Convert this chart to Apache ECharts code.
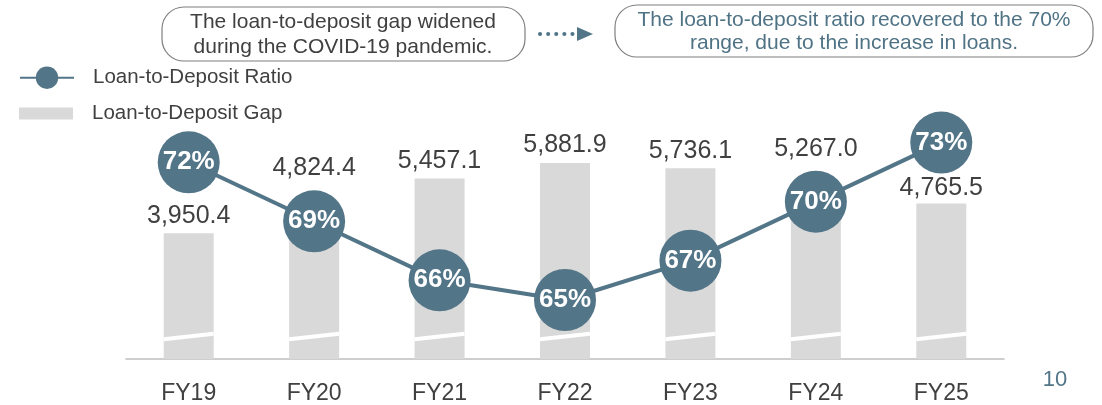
<!DOCTYPE html>
<html>
<head>
<meta charset="utf-8">
<script src="https://cdn.jsdelivr.net/npm/echarts@6.0.0/dist/echarts.min.js"></script>
<style>
  html, body { margin: 0; padding: 0; background: #fff; }
  #chart { width: 1102px; height: 405px; }
</style>
</head>
<body>
<div id="chart"></div>
<script>
// data
const fiscalYears = ['FY19', 'FY20', 'FY21', 'FY22', 'FY23', 'FY24', 'FY25']
const depositGap = [3950.4, 4824.4, 5457.1, 5881.9, 5736.1, 5267.0, 4765.5]
const depositRatio = [72, 69, 66, 65, 67, 70, 73]

const ratioName = 'Loan-to-Deposit Ratio'
const gapName = 'Loan-to-Deposit Gap'

const noteLeft = 'The loan-to-deposit gap widened\nduring the COVID-19 pandemic.'
const noteRight = 'The loan-to-deposit ratio recovered to the 70%\nrange, due to the increase in loans.'
const pageNo = '10'

// styling
const TEAL = '#527588'
const GREY_BAR = '#d9d9d9'
const TEXT = '#404040'
const FONT = 'Liberation Sans, Arial, sans-serif'
const BAR_W = 50
const GAP_MIN = 500
const BREAK_OFFSET = 22.5
// bar labels that sit above the ratio circle
const labelLift = [5, 21, 5, 5, 5, 24, 3]

const chart = echarts.init(document.getElementById('chart'), null, { renderer: 'canvas' })

const fmt = (v) => v.toLocaleString('en-US', { minimumFractionDigits: 1, maximumFractionDigits: 1 })

const option = {
  animation: false,
  textStyle: { fontFamily: FONT },
  grid: { left: 126, right: 98, top: 120, bottom: 46 },
  legend: [
    {
      data: [ratioName],
      left: 19,
      top: 66.5,
      padding: 0,
      itemWidth: 54,
      itemHeight: 28,
      textStyle: { fontSize: 20.5, color: TEXT, padding: [0, 0, 0, 14] },
      selectedMode: false
    },
    {
      data: [{ name: gapName, icon: 'rect' }],
      left: 19,
      top: 103,
      padding: 0,
      itemWidth: 54,
      itemHeight: 12,
      textStyle: { fontSize: 20.5, color: TEXT, padding: [0, 0, 0, 14] },
      selectedMode: false
    }
  ],
  xAxis: {
    type: 'category',
    data: fiscalYears,
    axisLine: { lineStyle: { color: '#bfbfbf', width: 1.5 } },
    axisTick: { show: false },
    axisLabel: { fontSize: 23, color: TEXT, margin: 23 }
  },
  yAxis: [
    { type: 'value', min: GAP_MIN, max: 7061, show: false, splitLine: { show: false } },
    { type: 'value', min: 62.0, max: 74.15, show: false, splitLine: { show: false } }
  ],
  series: [
    {
      name: gapName,
      type: 'bar',
      barWidth: BAR_W,
      z: 2,
      itemStyle: { color: GREY_BAR },
      label: {
        show: true,
        position: 'top',
        fontSize: 25,
        color: TEXT,
        formatter: (p) => fmt(p.value)
      },
      data: depositGap.map((v, i) => ({ value: v, label: { distance: labelLift[i] } }))
    },
    {
      // white slanted break mark on each bar
      name: 'break',
      type: 'custom',
      z: 3,
      silent: true,
      renderItem: (params, api) => {
        const base = api.coord([api.value(0), GAP_MIN])
        const x = base[0]
        const y = base[1] - BREAK_OFFSET
        return {
          type: 'line',
          shape: { x1: x - BAR_W / 2, y1: y + 2.7, x2: x + BAR_W / 2, y2: y - 2.7 },
          style: { stroke: '#fff', lineWidth: 4 }
        }
      },
      data: depositGap.map((v, i) => [i, v])
    },
    {
      name: ratioName,
      type: 'line',
      yAxisIndex: 1,
      z: 5,
      symbol: 'circle',
      symbolSize: 62,
      lineStyle: { color: TEAL, width: 4 },
      itemStyle: { color: TEAL },
      label: {
        show: true,
        position: 'inside',
        formatter: '{c}%',
        color: '#fff',
        fontSize: 26,
        fontWeight: 'bold'
      },
      data: depositRatio
    }
  ],
  graphic: [
    {
      type: 'rect',
      shape: { x: 162, y: 7, width: 363, height: 54, r: 22 },
      style: { fill: '#fff', stroke: '#7f7f7f', lineWidth: 1.2 }
    },
    {
      type: 'text',
      x: 343,
      y: 34.5,
      style: {
        text: noteLeft,
        align: 'center',
        verticalAlign: 'middle',
        fontSize: 21,
        lineHeight: 25,
        fontFamily: FONT,
        fill: TEXT
      }
    },
    {
      type: 'line',
      shape: { x1: 540, y1: 34, x2: 576, y2: 34 },
      style: { stroke: TEAL, lineWidth: 4, lineDash: [0.1, 8], lineCap: 'round' }
    },
    {
      type: 'polygon',
      shape: { points: [[577, 27], [593, 34], [577, 41]] },
      style: { fill: TEAL }
    },
    {
      type: 'rect',
      shape: { x: 615, y: 5, width: 478, height: 52, r: 22 },
      style: { fill: '#fff', stroke: '#7f7f7f', lineWidth: 1.2 }
    },
    {
      type: 'text',
      x: 854,
      y: 31.5,
      style: {
        text: noteRight,
        align: 'center',
        verticalAlign: 'middle',
        fontSize: 21,
        lineHeight: 23,
        fontFamily: FONT,
        fill: '#4f7385'
      }
    },
    {
      type: 'text',
      x: 1055,
      y: 380,
      style: {
        text: pageNo,
        align: 'center',
        verticalAlign: 'middle',
        fontSize: 22,
        fontFamily: FONT,
        fill: TEAL
      }
    }
  ]
}

chart.setOption(option)
</script>
</body>
</html>
